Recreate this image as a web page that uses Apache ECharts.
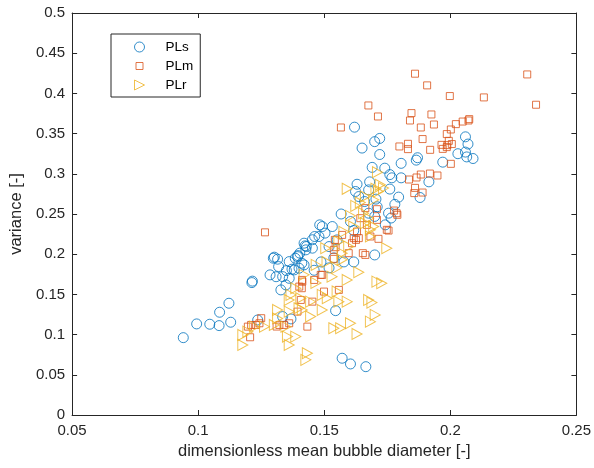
<!DOCTYPE html>
<html>
<head>
<meta charset="utf-8">
<script src="https://cdn.jsdelivr.net/npm/echarts@6/dist/echarts.min.js"></script>
<style>html,body{margin:0;padding:0;background:#fff;}#chart{width:594px;height:468px;}</style>
</head>
<body>
<div id="chart"></div>
<script>
const xTickLabels = ['0.05', '0.1', '0.15', '0.2', '0.25'];
const yTickLabels = ['0', '0.05', '0.1', '0.15', '0.2', '0.25', '0.3', '0.35', '0.4', '0.45', '0.5'];
const seriesNames = ['PLs', 'PLm', 'PLr'];

const plsData = [
[0.162,0.358],[0.172,0.344],[0.170,0.340],[0.165,0.332],[0.172,0.324],[0.187,0.320],[0.1805,0.313],[0.169,0.308],[0.174,0.307],[0.197,0.3145],[0.206,0.346],[0.207,0.337],[0.203,0.325],[0.206,0.327],[0.2065,0.321],[0.209,0.319],
[0.1865,0.317],[0.176,0.299],[0.1805,0.295],[0.1915,0.290],[0.176,0.281],[0.1795,0.271],[0.188,0.2705],[0.178,0.262],[0.1765,0.245],[0.1768,0.295],
[0.168,0.290],[0.163,0.287],[0.1624,0.278],[0.1676,0.280],[0.1705,0.2685],[0.171,0.259],[0.1567,0.250],[0.1676,0.251],[0.166,0.2655],[0.1637,0.2717],[0.170,0.247],[0.1755,0.251],[0.1604,0.2406],[0.1617,0.2294],[0.1742,0.2365],[0.1532,0.2344],[0.1482,0.2365],[0.1503,0.2262],[0.1462,0.222],[0.1453,0.218],[0.142,0.2137],[0.1429,0.2095],[0.1427,0.2054],[0.1403,0.2013],[0.1396,0.1983],[0.1385,0.195],[0.1361,0.1908],[0.1372,0.1814],[0.135,0.1796],[0.1319,0.1846],[0.1298,0.195],[0.1315,0.1938],[0.1285,0.1743],[0.1335,0.1721],[0.1213,0.1647],[0.1215,0.1665],[0.1453,0.2075],[0.1519,0.2095],[0.1551,0.2178],[0.1328,0.1556],[0.1348,0.1618],[0.1309,0.172],[0.1361,0.170],[0.1381,0.1805],[0.140,0.1826],[0.142,0.1867],[0.1394,0.197],[0.1411,0.1888],
[0.1122,0.139],[0.1085,0.1278],[0.1083,0.1112],[0.1129,0.1154],[0.1046,0.1129],[0.0994,0.1133],[0.0941,0.0962],[0.1236,0.1182],[0.1335,0.1224],[0.1368,0.1195],[0.1571,0.0706],[0.1604,0.0635],[0.1665,0.0601],[0.1545,0.1298],[0.170,0.1991],[0.146,0.180],[0.1302,0.1963],[0.1424,0.2104],[0.1487,0.1904],[0.1538,0.1954],[0.1578,0.1904],[0.1617,0.1904],[0.1519,0.183],[0.1492,0.2344],[0.1479,0.222]
];

const plmData = [
[0.186,0.4245],[0.2305,0.4236],[0.1908,0.410],[0.1998,0.3967],[0.2133,0.395],[0.234,0.3859],[0.1675,0.385],[0.1713,0.3713],[0.1846,0.3755],[0.1925,0.3738],[0.184,0.3663],[0.1935,0.3613],[0.2075,0.368],[0.2072,0.3663],[0.2049,0.365],[0.2022,0.3618],[0.2002,0.3551],[0.1883,0.3576],[0.1566,0.3576],[0.1986,0.3494],[0.1994,0.341],[0.189,0.3432],[0.1832,0.3373],[0.1832,0.3307],[0.1798,0.334],[0.1965,0.336],[0.1988,0.3357],[0.2006,0.337],[0.197,0.331],[0.1986,0.3332],[0.192,0.3298],[0.2002,0.3124],
[0.1883,0.2991],[0.1919,0.3003],[0.1949,0.2979],[0.1836,0.2929],[0.1866,0.2954],[0.186,0.2825],[0.1857,0.276],[0.189,0.2767],[0.1777,0.2543],[0.179,0.249],[0.1755,0.2294],[0.1265,0.2272],
[0.1571,0.224],[0.1542,0.2178],[0.1617,0.220],[0.1538,0.2054],[0.1597,0.2013],[0.161,0.2137],[0.1412,0.168],[0.1486,0.1743],[0.1663,0.2573],[0.1709,0.256],[0.1643,0.2448],[0.1709,0.2427],[0.1748,0.2303],[0.1683,0.222],[0.1715,0.2191],[0.1637,0.220],[0.163,0.2282],[0.1669,0.2365],[0.1787,0.251],[0.1626,0.2178],[0.1545,0.2087],
[0.1413,0.1659],[0.1401,0.1597],[0.1411,0.1577],[0.1407,0.1431],[0.1394,0.1286],[0.125,0.1204],[0.1243,0.1141],[0.123,0.112],[0.121,0.112],[0.1197,0.1099],[0.1206,0.0967],[0.1322,0.112],[0.1341,0.112],[0.1361,0.1141],[0.1433,0.1099],[0.1558,0.1556],[0.1499,0.1535],[0.1453,0.141],[0.146,0.168],[0.1492,0.1743],[0.1538,0.1942],[0.1663,0.1991],[0.1653,0.2013],[0.1311,0.110]
];

const plrData = [
[0.1591,0.2813],[0.1711,0.302],[0.1643,0.2643],[0.1604,0.2477],[0.1705,0.2813],[0.1735,0.2822],[0.1663,0.2717],[0.1696,0.2676],[0.1676,0.2448],[0.1663,0.2386],[0.1683,0.2303],[0.1683,0.222],[0.1656,0.251],[0.1696,0.2344],[0.1748,0.2075],[0.1506,0.2075],[0.1558,0.2157],[0.1597,0.2095],[0.1571,0.2013],[0.1715,0.278],[0.1722,0.2863],[0.1617,0.2344],[0.1571,0.193],
[0.1637,0.1776],[0.1591,0.168],[0.1709,0.1659],[0.1728,0.1639],[0.1531,0.1721],[0.1676,0.1431],[0.1689,0.1398],[0.1558,0.141],[0.1591,0.141],[0.1702,0.1245],[0.1683,0.1161],[0.1604,0.1141],[0.1538,0.1079],[0.1565,0.1079],[0.163,0.1008],[0.1433,0.0768],[0.1427,0.0686],
[0.1492,0.1494],[0.1492,0.1307],[0.1446,0.141],[0.1446,0.1224],[0.1387,0.0975],[0.1361,0.0871],[0.1354,0.0975],[0.1315,0.1307],[0.1361,0.1286],[0.1302,0.112],[0.1348,0.1099],[0.1263,0.1099],[0.1223,0.1099],[0.1197,0.1037],[0.1177,0.0996],[0.1177,0.0871],[0.1368,0.1494],[0.1407,0.1453],[0.1413,0.1307],[0.1387,0.1577],[0.140,0.1328],[0.1512,0.1453],[0.1551,0.1535],
[0.1468,0.1867],[0.142,0.1743],[0.1511,0.1904],[0.155,0.183],[0.1578,0.2278],[0.1625,0.2601],[0.1467,0.1643],[0.1361,0.1431],[0.1315,0.12]
];

const TXT = '#262626';
const FONT = '"Liberation Sans", Arial, sans-serif';
const xFmt = v => { const i = Math.round((v - 0.05) / 0.05); return xTickLabels[i] !== undefined ? xTickLabels[i] : ''; };
const yFmt = v => { const i = Math.round(v / 0.05); return yTickLabels[i] !== undefined ? yTickLabels[i] : ''; };

const chart = echarts.init(document.getElementById('chart'), null, {renderer: 'canvas'});
const axisCommon = {
  axisLine: {show: true, onZero: false, lineStyle: {color: TXT, width: 1}},
  axisTick: {show: true, inside: true, length: 5, lineStyle: {color: TXT, width: 1}},
  splitLine: {show: false}
};
const triPath = 'path://M0,0L10,5L0,10Z';
const sqPath = 'path://M-1.5,-1.5M0,0L7,0L7,7L0,7ZM8.5,8.5';
function mk(name, data, symbol, size, color) {
  return {
    name, type: 'scatter', data, symbol, symbolSize: size, symbolKeepAspect: true,
    itemStyle: {color: 'rgba(0,0,0,0)', borderColor: color, borderWidth: 1},
    emphasis: {disabled: true}, animation: false
  };
}
chart.setOption({
  animation: false,
  backgroundColor: '#fff',
  grid: {left: 71, right: 15, top: 13, bottom: 53, containLabel: false},
  legend: {
    orient: 'vertical', left: 111, top: 34,
    data: seriesNames,
    itemWidth: 42, itemHeight: 10, itemGap: 5,
    symbolKeepAspect: true,
    padding: [6, 7, 5, 23],
    itemStyle: {borderWidth: 1},
    borderColor: TXT, borderWidth: 1, backgroundColor: '#fff',
    textStyle: {fontFamily: FONT, fontSize: 13.5, color: '#000', lineHeight: 14},
    selectedMode: false
  },
  xAxis: [
    Object.assign({type: 'value', min: 0.05, max: 0.25, interval: 0.05, position: 'bottom',
      name: 'dimensionless mean bubble diameter [-]', nameLocation: 'middle', nameGap: 26,
      nameTextStyle: {fontFamily: FONT, fontSize: 16.5, color: TXT},
      axisLabel: {fontFamily: FONT, fontSize: 15, color: TXT, margin: 8, formatter: xFmt}}, axisCommon),
    Object.assign({type: 'value', min: 0.05, max: 0.25, interval: 0.05, position: 'top',
      axisLabel: {show: false}}, axisCommon)
  ],
  yAxis: [
    Object.assign({type: 'value', min: 0, max: 0.5, interval: 0.05, position: 'left',
      name: 'variance [-]', nameLocation: 'middle', nameGap: 40,
      nameTextStyle: {fontFamily: FONT, fontSize: 16.5, color: TXT},
      axisLabel: {fontFamily: FONT, fontSize: 15, color: TXT, margin: 7, formatter: yFmt}}, axisCommon),
    Object.assign({type: 'value', min: 0, max: 0.5, interval: 0.05, position: 'right',
      axisLabel: {show: false}}, axisCommon)
  ],
  series: [
    mk('PLs', plsData, 'circle', 10, '#0072BD'),
    mk('PLm', plmData, sqPath, 10, '#D95319'),
    mk('PLr', plrData, triPath, [10, 11], '#EDB120')
  ]
});
</script>
</body>
</html>
